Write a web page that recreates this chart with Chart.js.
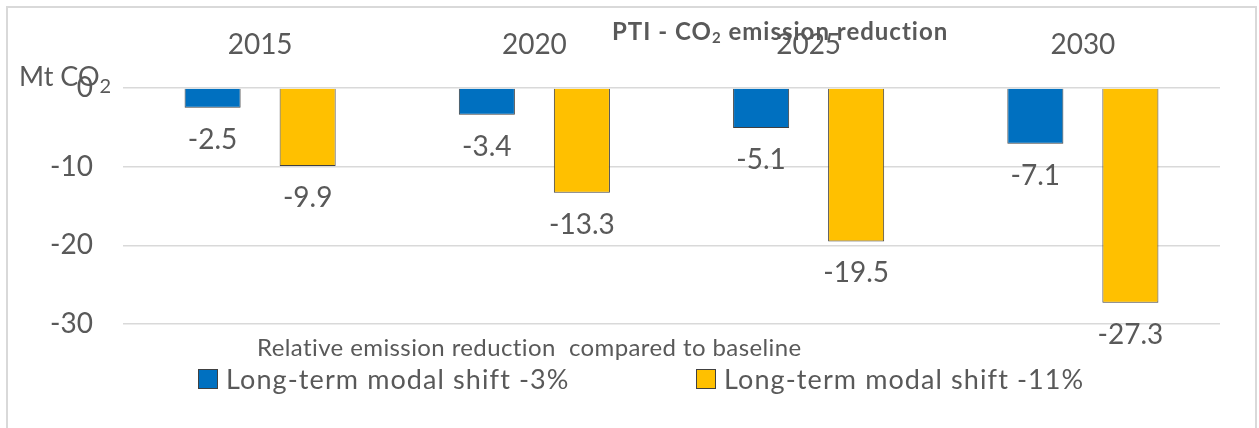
<!DOCTYPE html>
<html>
<head>
<meta charset="utf-8">
<script src="https://cdn.jsdelivr.net/npm/chart.js@4.4.1/dist/chart.umd.min.js"></script>
<style>
  html, body { margin: 0; padding: 0; background: #fff; }
  body { width: 1259px; height: 428px; position: relative; overflow: hidden; }
  #frame { position: absolute; left: 6px; top: 6px; width: 1247px; height: 500px; border: 2px solid #d9d9d9; }
  #chart { position: absolute; left: 0; top: 0; }
  #legend { position: absolute; left: 198px; top: 364px; display: flex; font-family: Lato, sans-serif; font-size: 27px; letter-spacing: 1.1px; line-height: 30px; color: #595959; }
  .item { display: flex; align-items: center; min-width: 498px; }
  .item:last-child { min-width: 0; }
  .swatch { width: 18px; height: 18px; border: 1px solid #404040; margin-right: 8px; }
</style>
</head>
<body>
<div id="frame"></div>
<canvas id="chart" width="1259" height="428"></canvas>
<div id="legend"></div>
<script>
const years = ["2015", "2020", "2025", "2030"];
const shift3 = [-2.5, -3.4, -5.1, -7.1];
const shift11 = [-9.9, -13.3, -19.5, -27.3];
const seriesNames = ["Long-term modal shift -3%", "Long-term modal shift -11%"];
const seriesColors = ["#0070c0", "#ffc000"];

const textColor = "#595959";
const gridColor = "#d9d9d9";
const fontFamily = "Lato, 'Open Sans', sans-serif";

// text + lowered small "2"
function drawSubscripted(ctx, before, sub, after, x, y, size, subSize, drop, weight) {
  const w = weight || "normal";
  ctx.font = `${w} ${size}px ${fontFamily}`;
  ctx.fillText(before, x, y);
  x += ctx.measureText(before).width;
  ctx.font = `${w} ${subSize}px ${fontFamily}`;
  ctx.fillText(sub, x, y + drop);
  x += ctx.measureText(sub).width;
  if (after) {
    ctx.font = `${w} ${size}px ${fontFamily}`;
    ctx.fillText(after, x, y);
  }
}

const captions = {
  id: "captions",
  afterDraw(chart) {
    const { ctx, chartArea } = chart;
    ctx.save();
    ctx.fillStyle = textColor;
    ctx.textAlign = "left";
    ctx.textBaseline = "alphabetic";
    ctx.letterSpacing = "1px";
    drawSubscripted(ctx, "PTI - CO", "2", " emission reduction",
      chartArea.left + 489, chartArea.top - 48, 24, 15, 3, "bold");
    ctx.letterSpacing = "0px";
    drawSubscripted(ctx, "Mt CO", "2", "", chartArea.left - 104, chartArea.top - 2, 27, 20, 7);
    ctx.letterSpacing = "0.4px";
    ctx.font = `24px ${fontFamily}`;
    ctx.fillText("Relative emission reduction  compared to baseline", chartArea.left + 134, chartArea.bottom + 32);
    ctx.restore();
  },
};

const valueLabels = {
  id: "valueLabels",
  afterDatasetsDraw(chart) {
    const { ctx } = chart;
    ctx.save();
    ctx.font = `28px ${fontFamily}`;
    ctx.fillStyle = textColor;
    ctx.textAlign = "center";
    ctx.textBaseline = "middle";
    chart.data.datasets.forEach((ds, i) => {
      chart.getDatasetMeta(i).data.forEach((bar, j) => {
        ctx.fillText(ds.data[j].toFixed(1), bar.x, bar.y + 32);
      });
    });
    ctx.restore();
  },
};

const barStyle = {
  borderColor: "#404040",
  borderWidth: 1,
  categoryPercentage: 0.693,
  barPercentage: 0.59,
};

const chart = new Chart(document.getElementById("chart"), {
  type: "bar",
  data: {
    labels: years,
    datasets: [
      { label: seriesNames[0], data: shift3, backgroundColor: seriesColors[0], ...barStyle },
      { label: seriesNames[1], data: shift11, backgroundColor: seriesColors[1], ...barStyle },
    ],
  },
  options: {
    responsive: false,
    animation: false,
    layout: { padding: { left: 0, right: 39, top: 0, bottom: 104 } },
    plugins: {
      legend: { display: false },
      tooltip: { enabled: false },
    },
    scales: {
      x: {
        position: "top",
        afterFit(scale) { scale.height = 88; },
        grid: { display: false, drawTicks: false },
        border: { display: false },
        ticks: {
          color: textColor,
          padding: 26,
          font: { family: fontFamily, size: 28 },
        },
      },
      y: {
        min: -30,
        max: 0,
        afterFit(scale) { scale.width = 123; },
        grid: { color: gridColor, lineWidth: 1.5, drawTicks: false },
        border: { display: false },
        ticks: {
          stepSize: 10,
          color: textColor,
          padding: 30,
          font: { family: fontFamily, size: 28 },
        },
      },
    },
  },
  plugins: [valueLabels, captions],
});

const legendEl = document.getElementById("legend");
chart.data.datasets.forEach((ds) => {
  const item = document.createElement("div");
  item.className = "item";
  const swatch = document.createElement("span");
  swatch.className = "swatch";
  swatch.style.background = ds.backgroundColor;
  const label = document.createElement("span");
  label.textContent = ds.label;
  item.append(swatch, label);
  legendEl.append(item);
});
</script>
</body>
</html>
